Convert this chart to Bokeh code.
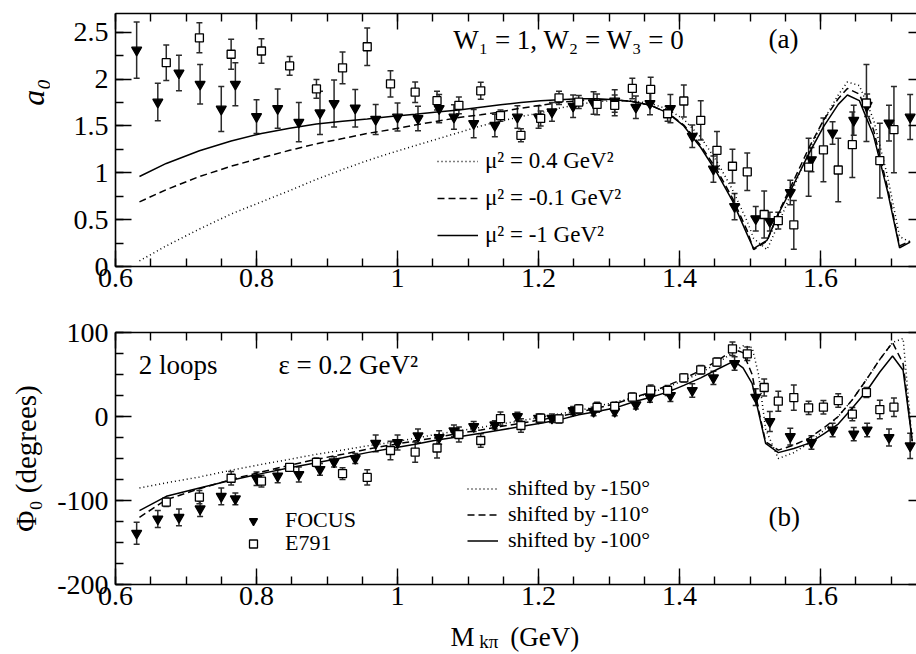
from math import pi
from bokeh.plotting import figure
from bokeh.models import (ColumnDataSource, Whisker, TeeHead, Label, Legend, LegendItem,
                          SingleIntervalTicker, LinearAxis, CustomJSTickFormatter, Spacer)
from bokeh.layouts import column, row
from bokeh.embed import file_html
from bokeh.resources import INLINE

FONT = "Liberation Serif"

# ---------------- data: FOCUS ----------------
focus_m = [0.630, 0.660, 0.690, 0.720, 0.750, 0.770, 0.800, 0.830, 0.860, 0.890,
           0.910, 0.940, 0.969, 1.000, 1.029, 1.059, 1.080, 1.108, 1.138, 1.170,
           1.200, 1.219, 1.249, 1.278, 1.308, 1.338, 1.358, 1.387, 1.418, 1.448,
           1.478, 1.508, 1.528, 1.557, 1.587, 1.617, 1.647, 1.666, 1.697, 1.727]
focus_a0 = [2.31, 1.755, 2.065, 1.945, 1.68, 1.945, 1.60, 1.685, 1.54, 1.64,
            1.74, 1.69, 1.57, 1.595, 1.58, 1.685, 1.595, 1.525, 1.506, 1.595,
            1.595, 1.65, 1.71, 1.745, 1.766, 1.70, 1.74, 1.685, 1.39, 1.04,
            0.64, 0.51, 0.48, 0.79, 1.14, 1.425, 1.56, 1.72, 1.53, 1.595]
focus_a0_err = [0.30, 0.20, 0.19, 0.21, 0.24, 0.23, 0.18, 0.21, 0.21, 0.23,
                0.25, 0.20, 0.16, 0.15, 0.13, 0.15, 0.13, 0.15, 0.12, 0.12,
                0.12, 0.10, 0.12, 0.12, 0.12, 0.12, 0.12, 0.15, 0.12, 0.14,
                0.14, 0.13, 0.10, 0.13, 0.13, 0.12, 0.16, 0.12, 0.19, 0.24]
focus_phase = [-139, -122, -120, -110, -95, -98, -74, -71, -69, -63,
               -54, -50, -32, -31, -23, -25, -17, -12, -10, 0,
               -2, -2, 7, 6, 6, 14, 23, 25, 31, 46,
               63, 23, -6, -24, -31, -16, -21, -16, -25, -35]
focus_phase_err = [13, 10, 10, 9, 10, 7, 8, 8, 9, 7,
                   6, 6, 10, 9, 8, 8, 7, 6, 5, 5,
                   5, 5, 5, 5, 5, 5, 6, 7, 8, 8,
                   8, 10, 12, 10, 8, 8, 8, 8, 10, 15]

# ---------------- data: E791 ----------------
e791_m = [0.672, 0.719, 0.764, 0.807, 0.847, 0.885, 0.922, 0.957, 0.990, 1.025,
          1.056, 1.087, 1.118, 1.146, 1.175, 1.203, 1.229, 1.257, 1.283, 1.308,
          1.333, 1.359, 1.383, 1.406, 1.430, 1.453, 1.475, 1.496, 1.520, 1.540,
          1.562, 1.583, 1.604, 1.625, 1.645, 1.665, 1.684, 1.704]
e791_a0 = [2.175, 2.44, 2.265, 2.30, 2.14, 1.895, 2.12, 2.345, 1.95, 1.86,
           1.77, 1.72, 1.875, 1.61, 1.40, 1.58, 1.80, 1.755, 1.73, 1.72,
           1.90, 1.89, 1.63, 1.766, 1.56, 1.24, 1.07, 1.01, 0.555, 0.49,
           0.445, 1.06, 1.245, 1.03, 1.30, 1.745, 1.13, 1.46]
e791_a0_err = [0.19, 0.16, 0.16, 0.13, 0.10, 0.10, 0.17, 0.20, 0.14, 0.11,
               0.10, 0.09, 0.09, 0.06, 0.07, 0.08, 0.07, 0.07, 0.11, 0.11,
               0.11, 0.13, 0.08, 0.17, 0.21, 0.20, 0.18, 0.20, 0.25, 0.09,
               0.26, 0.31, 0.34, 0.34, 0.35, 0.41, 0.40, 0.46]
e791_phase = [-102, -96, -73.5, -77, -60.5, -54.5, -68, -72.5, -40.5, -42.5,
              -37.5, -21.4, -28.6, -2.5, -10.7, -2, -2.8, 9, 11, 12,
              23, 31.5, 31, 46, 55.6, 64.7, 80.6, 74.6, 34.5, 18.2,
              22.5, 10.3, 11.1, 19, 2.8, 28.5, 8.3, 11.1]
e791_phase_err = [5, 8, 8, 7, 4, 5, 7, 9, 11, 12,
                  12, 9, 8, 8, 8, 5, 5, 5, 6, 5,
                  5, 6, 6, 5, 5, 5, 8, 8, 10, 12,
                  15, 8, 8, 8, 8, 6, 11, 11]

# ---------------- model curves: panel (a) ----------------
curve_m = [0.634, 0.672, 0.719, 0.764, 0.807, 0.847, 0.885, 0.922, 0.957, 0.990,
           1.025, 1.056, 1.087, 1.118, 1.146, 1.175, 1.203, 1.229, 1.257, 1.283,
           1.308, 1.333, 1.359, 1.383, 1.406, 1.430, 1.453, 1.475, 1.496, 1.505,
           1.524, 1.540, 1.562, 1.583, 1.604, 1.625, 1.638, 1.655, 1.675, 1.695,
           1.712, 1.727]
a0_mu2_p04 = [0.06, 0.22, 0.40, 0.56, 0.69, 0.81, 0.93, 1.035, 1.13, 1.21,
              1.29, 1.36, 1.43, 1.50, 1.55, 1.60, 1.64, 1.69, 1.73, 1.76,
              1.77, 1.77, 1.74, 1.68, 1.57, 1.38, 1.12, 0.82, 0.48, 0.30,
              0.18, 0.45, 0.85, 1.22, 1.56, 1.83, 1.97, 1.93, 1.57, 0.96,
              0.32, 0.26]
a0_mu2_m01 = [0.69, 0.82, 0.96, 1.07, 1.16, 1.24, 1.31, 1.365, 1.42, 1.46,
              1.51, 1.55, 1.59, 1.62, 1.65, 1.69, 1.72, 1.75, 1.77, 1.78,
              1.78, 1.76, 1.72, 1.64, 1.51, 1.29, 1.03, 0.73, 0.38, 0.18,
              0.27, 0.57, 0.92, 1.26, 1.56, 1.79, 1.90, 1.84, 1.46, 0.84,
              0.22, 0.27]
a0_mu2_m1 = [0.96, 1.10, 1.235, 1.34, 1.42, 1.475, 1.52, 1.55, 1.575, 1.60,
             1.625, 1.65, 1.67, 1.70, 1.725, 1.75, 1.77, 1.78, 1.79, 1.79,
             1.78, 1.76, 1.72, 1.64, 1.50, 1.27, 1.00, 0.70, 0.34, 0.19,
             0.28, 0.56, 0.88, 1.20, 1.49, 1.73, 1.83, 1.77, 1.40, 0.80,
             0.20, 0.26]

# ---------------- model curves: panel (b) ----------------
phase_curve_m = [0.634, 0.672, 0.719, 0.764, 0.807, 0.847, 0.885, 0.922, 0.957, 0.990,
                 1.025, 1.056, 1.087, 1.118, 1.146, 1.175, 1.203, 1.229, 1.257, 1.283,
                 1.308, 1.333, 1.359, 1.383, 1.406, 1.430, 1.453, 1.477, 1.490, 1.503,
                 1.512, 1.522, 1.540, 1.562, 1.583, 1.604, 1.625, 1.645, 1.665, 1.684,
                 1.702, 1.717, 1.730]
phase_shift150 = [-85, -79, -72, -64, -57, -51, -45, -40, -35, -31,
                  -26, -21, -17, -13, -9, -5, -1, 3, 7, 12,
                  17, 22, 28, 35, 43, 52, 63, 77, 84, 82,
                  50, -15, -50, -43, -32, -17, 0, 20, 44, 68,
                  88, 93, -30]
phase_shift110 = [-120, -99, -86, -75, -66, -58, -51, -45, -39, -34,
                  -29, -25, -20, -16, -12, -8, -4, 0, 5, 10,
                  15, 22, 29, 37, 45, 55, 66, 80, 76, 50,
                  8, -30, -40, -34, -26, -14, 0, 20, 44, 68,
                  88, 63, -29]
phase_shift100 = [-112, -95, -85, -76, -68, -61, -55, -49, -43, -38,
                  -33, -28, -24, -20, -16, -12, -8, -4, 2, 6,
                  10, 17, 23, 29, 37, 46, 56, 66, 58, 39,
                  5, -32, -43, -38, -32, -21, -9, 10, 30, 53,
                  72, 55, -29]

X_START, X_END = 0.6, 1.736
LAB_W = 50          # width of the column holding the rotated y titles
MAIN_W = 866        # width of each panel figure
LEFT_B = 65         # left border of each panel figure (frame starts at x = 115)


def tick_fmt():
    return CustomJSTickFormatter(code="return String(Number(tick.toFixed(3)));")


def blank_fmt():
    return CustomJSTickFormatter(code="return '';")


def make_panel(height, top_border, bottom_border, y_start, y_end, y_interval, y_minor):
    p = figure(width=MAIN_W, height=height, x_range=(X_START, X_END), y_range=(y_start, y_end),
               min_border_left=LEFT_B, min_border_right=0, min_border_top=top_border,
               min_border_bottom=bottom_border, output_backend="svg", toolbar_location=None)
    p.outline_line_color = None
    p.grid.visible = False
    p.background_fill_color = "white"
    p.border_fill_color = "white"
    xt = SingleIntervalTicker(interval=0.2, num_minor_ticks=4)
    yt = SingleIntervalTicker(interval=y_interval, num_minor_ticks=y_minor)
    for ax, t in ((p.xaxis[0], xt), (p.yaxis[0], yt)):
        ax.ticker = t
        ax.formatter = tick_fmt()
        ax.axis_line_width = 1.6
        ax.major_tick_in = 16
        ax.major_tick_out = 0
        ax.minor_tick_in = 8
        ax.minor_tick_out = 0
        ax.major_tick_line_width = 1.4
        ax.minor_tick_line_width = 1.4
        ax.major_label_text_font = FONT
        ax.major_label_text_font_size = "28px"
        ax.major_label_text_color = "black"
    p.xaxis[0].major_label_standoff = 2
    p.yaxis[0].major_label_standoff = 7
    top_ax = LinearAxis(ticker=SingleIntervalTicker(interval=0.2, num_minor_ticks=4),
                        formatter=blank_fmt(), major_label_standoff=0,
                        axis_line_width=1.6, major_tick_in=16, major_tick_out=0,
                        minor_tick_in=8, minor_tick_out=0,
                        major_tick_line_width=1.4, minor_tick_line_width=1.4)
    p.add_layout(top_ax, "above")
    right_ax = LinearAxis(ticker=SingleIntervalTicker(interval=y_interval, num_minor_ticks=0),
                          formatter=blank_fmt(), major_label_standoff=0,
                          axis_line_color=None, major_tick_in=8, major_tick_out=0,
                          minor_tick_in=0, minor_tick_out=0, major_tick_line_width=1.4)
    p.add_layout(right_ax, "right")
    return p


def label_fig(width, height, x_range, y_range, top_border, bottom_border, left_border):
    f = figure(width=width, height=height, x_range=x_range, y_range=y_range,
               min_border_left=left_border, min_border_right=0, min_border_top=top_border,
               min_border_bottom=bottom_border, x_axis_type=None, y_axis_type=None,
               output_backend="svg", toolbar_location=None)
    f.outline_line_color = None
    f.grid.visible = False
    f.border_fill_color = "white"
    return f


def add_points(p, m, vals, errs, marker, size, fill):
    src = ColumnDataSource(dict(x=m, y=vals,
                                upper=[v + e for v, e in zip(vals, errs)],
                                lower=[v - e for v, e in zip(vals, errs)]))
    w = Whisker(source=src, base="x", upper="upper", lower="lower", dimension="height",
                line_color="#2a2a2a", line_width=1.5,
                upper_head=TeeHead(size=6, line_color="#2a2a2a", line_width=1.5),
                lower_head=TeeHead(size=6, line_color="#2a2a2a", line_width=1.5))
    p.add_layout(w)
    return p.scatter("x", "y", source=src, marker=marker, size=size, fill_color=fill,
                     line_color="black", line_width=1.3)


def add_label(p, x, y, text, size="27px", **kw):
    p.add_layout(Label(x=x, y=y, text=text, text_font=FONT, text_font_size=size,
                       text_color="black", **kw))


def make_legend(items, loc, spacing, gw, gh, standoff, fsize):
    return Legend(items=items, location=loc, border_line_color=None, background_fill_alpha=0,
                  padding=0, margin=0, spacing=spacing, glyph_width=gw, glyph_height=gh,
                  label_height=gh, label_standoff=standoff, label_text_font=FONT,
                  label_text_font_size=fsize, label_text_color="black")


# ---------------- panel (a) ----------------
top = make_panel(305, 13, 39, 0, 2.7, 0.5, 2)
ta_dot = top.line(curve_m, a0_mu2_p04, line_color="black", line_width=1.5, line_dash="1 3")
ta_dash = top.line(curve_m, a0_mu2_m01, line_color="black", line_width=1.5, line_dash="7 4")
ta_solid = top.line(curve_m, a0_mu2_m1, line_color="black", line_width=1.5)
add_points(top, focus_m, focus_a0, focus_a0_err, "inverted_triangle", 10, "black")
add_points(top, e791_m, e791_a0, e791_a0_err, "square", 8, "white")

top.add_layout(make_legend([LegendItem(label="μ² = 0.4 GeV²", renderers=[ta_dot]),
                            LegendItem(label="μ² = -0.1 GeV²", renderers=[ta_dash]),
                            LegendItem(label="μ² = -1 GeV²", renderers=[ta_solid])],
                           (322, 18), 11, 41, 26, 7, "23px"))

add_label(top, 1.079, 2.254, "W₁ = 1, W₂ = W₃ = 0")
add_label(top, 1.526, 2.265, "(a)")

ylab_top = label_fig(LAB_W, 305, (0, LAB_W), top.y_range, 13, 39, 0)
add_label(ylab_top, 32, 1.86, "a₀", size="32px", angle=pi / 2,
          text_align="center", text_baseline="middle", text_font_style="italic")

# ---------------- panel (b) ----------------
bot = make_panel(313, 27, 34, -200, 100, 100, 4)
tb_dot = bot.line(phase_curve_m, phase_shift150, line_color="black", line_width=1.5, line_dash="1 3")
tb_dash = bot.line(phase_curve_m, phase_shift110, line_color="black", line_width=1.5, line_dash="7 4")
tb_solid = bot.line(phase_curve_m, phase_shift100, line_color="black", line_width=1.5)
r_focus = add_points(bot, focus_m, focus_phase, focus_phase_err, "inverted_triangle", 10, "black")
r_e791 = add_points(bot, e791_m, e791_phase, e791_phase_err, "square", 8, "white")

bot.add_layout(make_legend([LegendItem(label="shifted by -150°", renderers=[tb_dot]),
                            LegendItem(label="shifted by -110°", renderers=[tb_dash]),
                            LegendItem(label="shifted by -100°", renderers=[tb_solid])],
                           (352, 31), 0, 31, 25, 10, "22px"))
bot.add_layout(make_legend([LegendItem(label="FOCUS", renderers=[r_focus])],
                           (128, 51), 0, 20, 23, 22, "22px"))
bot.add_layout(make_legend([LegendItem(label="E791", renderers=[r_e791])],
                           (128, 28), 0, 20, 23, 22, "22px"))

add_label(bot, 0.633, 42.9, "2 loops")
add_label(bot, 0.831, 42.9, "ε = 0.2 GeV²")
add_label(bot, 1.526, -137.7, "(b)")

ylab_bot = label_fig(LAB_W, 313, (0, LAB_W), bot.y_range, 27, 34, 0)
add_label(ylab_bot, 25, -50, "Φ₀ (degrees)", size="29px", angle=pi / 2,
          text_align="center", text_baseline="middle")

# ---------------- x-axis title ----------------
xlab = label_fig(MAIN_W, 35, top.x_range, (0, 35), 0, 0, LEFT_B)
add_label(xlab, 1.075, 17, "M", size="27px", text_baseline="middle")
add_label(xlab, 1.116, 12, "kπ", size="19px", text_baseline="middle")
add_label(xlab, 1.160, 17, "(GeV)", size="27px", text_baseline="middle")

layout = column(row(ylab_top, top), row(ylab_bot, bot),
                row(Spacer(width=LAB_W, height=35), xlab))
open("out.html", "w").write(file_html(layout, INLINE))
